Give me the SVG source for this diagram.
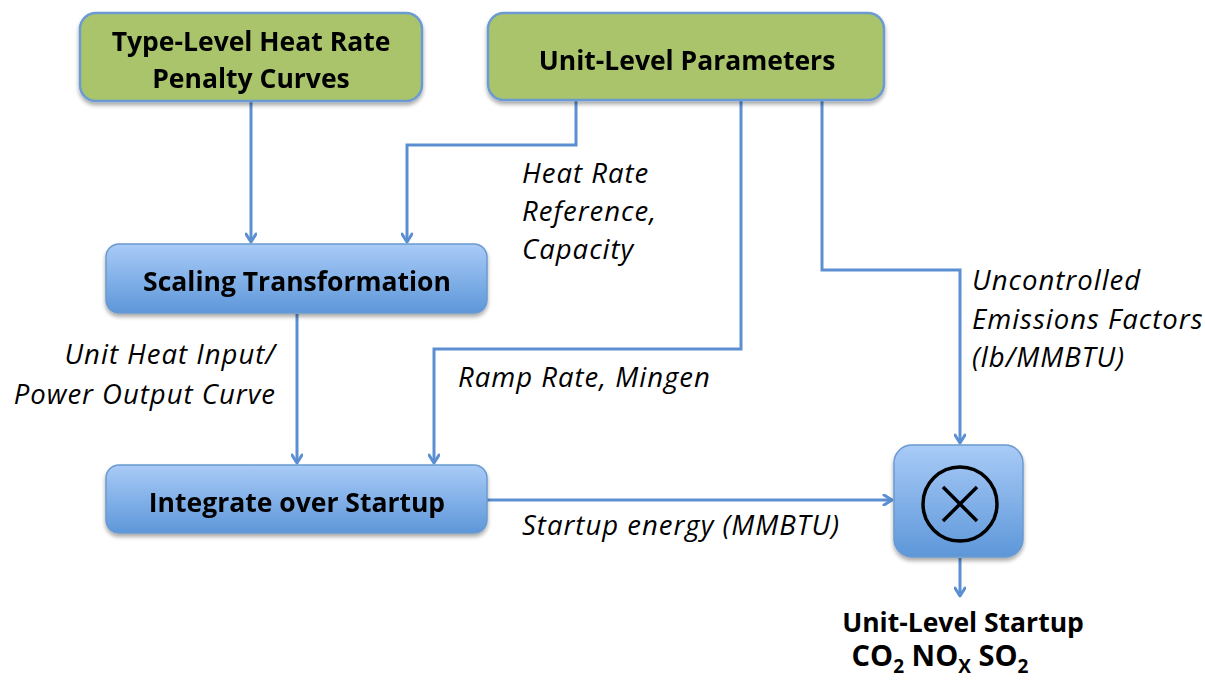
<svg xmlns="http://www.w3.org/2000/svg" width="1205" height="683" viewBox="0 0 1205 683">
  <defs>
    <linearGradient id="blueFill" x1="0" y1="0" x2="0" y2="1">
      <stop offset="0" stop-color="#a9cbf7"/>
      <stop offset="1" stop-color="#5d97d9"/>
    </linearGradient>
    <filter id="shadow" x="-10%" y="-10%" width="120%" height="140%">
      <feGaussianBlur in="SourceAlpha" stdDeviation="2"/>
      <feOffset dx="0" dy="3" result="b"/>
      <feComponentTransfer><feFuncA type="linear" slope="0.35"/></feComponentTransfer>
      <feMerge><feMergeNode/><feMergeNode in="SourceGraphic"/></feMerge>
    </filter>
    <marker id="arrow" viewBox="0 0 12 12" refX="10" refY="6" markerWidth="12" markerHeight="12" markerUnits="userSpaceOnUse" orient="auto">
      <path d="M2,1 L10,6 L2,11" fill="none" stroke="#5b8fd1" stroke-width="3" stroke-linecap="round" stroke-linejoin="round"/>
    </marker>
  </defs>
  <style>
    .green { fill: #a9c46b; stroke: #6c9bd2; stroke-width: 2.5; }
    .blue { fill: url(#blueFill); stroke: #6a9ad0; stroke-width: 1.5; }
    .title { font-family: "Open Sans", Lato, "Liberation Sans", sans-serif; font-weight: bold; font-size: 26.5px; fill: #000; text-anchor: middle; }
    .species { font-size: 29px; }
    .sub { font-size: 19px; }
    .label { font-family: "Open Sans", Lato, "Liberation Sans", sans-serif; font-style: italic; font-size: 27.5px; letter-spacing: 1px; fill: #000; }
    .wire { fill: none; stroke: #5b8fd1; stroke-width: 3; }
  </style>
  <rect width="1205" height="683" fill="#fff"/>

  <g id="connectors">
    <path class="wire" d="M251,101 V242" marker-end="url(#arrow)"/>
    <path class="wire" d="M576,101 V145 H407 V242" marker-end="url(#arrow)"/>
    <path class="wire" d="M741,101 V349 H434 V463" marker-end="url(#arrow)"/>
    <path class="wire" d="M822,101 V270 H960 V443" marker-end="url(#arrow)"/>
    <path class="wire" d="M297,314 V463" marker-end="url(#arrow)"/>
    <path class="wire" d="M487,500 H892" marker-end="url(#arrow)"/>
    <path class="wire" d="M960,558 V596" marker-end="url(#arrow)"/>
  </g>

  <g id="type-level-curves" filter="url(#shadow)">
    <rect class="green" x="80" y="13" width="342" height="88" rx="16"/>
    <text class="title" x="251" y="51">Type-Level Heat Rate</text>
    <text class="title" x="251" y="88">Penalty Curves</text>
  </g>

  <g id="unit-level-parameters" filter="url(#shadow)">
    <rect class="green" x="488" y="13" width="396" height="87" rx="16"/>
    <text class="title" x="687" y="70">Unit-Level Parameters</text>
  </g>

  <g id="scaling-transformation" filter="url(#shadow)">
    <rect class="blue" x="106" y="244" width="381" height="69" rx="13"/>
    <text class="title" x="297" y="291">Scaling Transformation</text>
  </g>

  <g id="integrate-startup" filter="url(#shadow)">
    <rect class="blue" x="106" y="465" width="381" height="68" rx="13"/>
    <text class="title" x="297" y="512">Integrate over Startup</text>
  </g>

  <g id="multiply" filter="url(#shadow)">
    <rect class="blue" x="894" y="445" width="129" height="112" rx="18"/>
    <circle cx="960" cy="504" r="37" fill="none" stroke="#000" stroke-width="3.5"/>
    <path d="M943,487 L977,521 M977,487 L943,521" stroke="#000" stroke-width="3.5"/>
  </g>

  <g id="labels">
    <text class="label" x="522" y="183">Heat Rate</text>
    <text class="label" x="522" y="221">Reference,</text>
    <text class="label" x="522" y="259">Capacity</text>
    <text class="label" x="972" y="290">Uncontrolled</text>
    <text class="label" x="972" y="329">Emissions Factors</text>
    <text class="label" x="972" y="367">(lb/MMBTU)</text>
    <text class="label" x="276" y="364" text-anchor="end">Unit Heat Input/</text>
    <text class="label" x="276" y="404" text-anchor="end">Power Output Curve</text>
    <text class="label" x="458" y="387">Ramp Rate, Mingen</text>
    <text class="label" x="522" y="535">Startup energy (MMBTU)</text>
  </g>

  <g id="output">
    <text class="title" x="963" y="632">Unit-Level Startup</text>
    <text class="title species" x="940" y="666">CO<tspan class="sub" dy="7">2</tspan><tspan dy="-7"> NO</tspan><tspan class="sub" dy="7">X</tspan><tspan dy="-7"> SO</tspan><tspan class="sub" dy="7">2</tspan></text>
  </g>
</svg>
